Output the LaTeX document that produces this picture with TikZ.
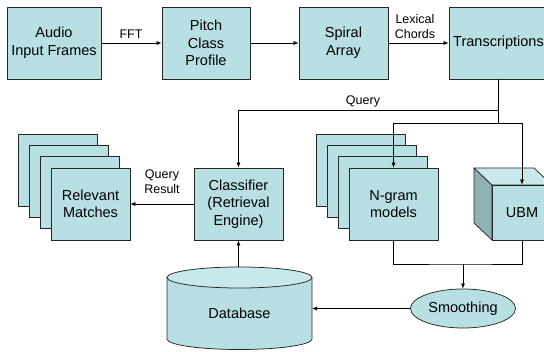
\documentclass[tikz,border=0pt]{standalone}
\usepackage{fontspec}
\setmainfont{Liberation Sans}
\usetikzlibrary{arrows.meta,shapes.geometric}
\definecolor{boxfill}{RGB}{184,223,227}
\definecolor{boxtop}{RGB}{200,232,235}
\definecolor{boxside}{RGB}{143,178,180}
\begin{document}
\begin{tikzpicture}[x=1pt,y=-1pt,
  box/.style={draw=black!85, fill=boxfill, line width=0.75pt, align=center,
    inner sep=0pt, font=\fontsize{14.5}{17.5}\selectfont},
  card/.style={box, minimum width=#1, minimum height=72pt},
  lbl/.style={align=center, inner sep=0pt, font=\fontsize{12.5}{15}\selectfont},
  conn/.style={-{Latex[length=5pt,width=4pt]}, line width=0.7pt},
  wire/.style={line width=0.7pt}]
\useasboundingbox (0,0) rectangle (544,352);

% top row of processing stages
\node[card=94pt] (audio) at (54,43) {Audio\\Input Frames};
\node[card=88pt] (pcp) at (206,43) {Pitch\\Class\\Profile};
\node[card=89pt] (spiral) at (343.5,43) {Spiral\\Array};
\node[card=99pt] (trans) at (498.5,43) {Transcriptions};

\draw[conn] (audio.east) -- (pcp.west);
\node[lbl] (fft) at (131,34) {FFT};
\draw[conn] (pcp.east) -- (spiral.west);
\draw[conn] (spiral.east) -- (trans.west);
\node[lbl] (lex) at (415,26.5) {Lexical\\Chords};

% stack of result cards
\node[card=79pt] (rel3) at (57.5,170) {};
\node[card=79pt] (rel2) at (68.5,181.3) {};
\node[card=79pt] (rel1) at (79.5,192.7) {};
\node[card=79pt] (rel) at (90.5,204) {Relevant\\Matches};

% classifier
\node[card=89pt] (clf) at (238.5,204) {Classifier\\(Retrieval\\Engine)};

% stack of n-gram models
\node[card=89pt] (ng3) at (360.5,170) {};
\node[card=89pt] (ng2) at (371.5,181.3) {};
\node[card=89pt] (ng1) at (382.5,192.7) {};
\node[card=89pt] (ngram) at (393.5,204) {N-gram\\models};

% UBM cube
\fill[boxside, draw=black!85, line width=0.75pt, line join=round]
  (474,168) -- (492,185) -- (492,240) -- (474,223) -- cycle;
\fill[boxtop, draw=black!85, line width=0.75pt, line join=round]
  (474,168) -- (534,168) -- (552,185) -- (492,185) -- cycle;
\node[box, minimum width=60pt, minimum height=55pt] (ubm) at (522,212.5) {UBM};

% smoothing
\node[box, ellipse, minimum width=105pt, minimum height=39pt] (smooth) at (463,308.5) {Smoothing};

% database cylinder
\fill[boxfill, draw=black!85, line width=0.75pt]
  (167,277.5) -- (167,339) arc[start angle=180, end angle=0, x radius=72.5, y radius=10.5]
  -- (312,277.5);
\draw[fill=boxtop, draw=black!85, line width=0.75pt] (239.5,277.5) ellipse [x radius=72.5, y radius=10.5];
\node[lbl, font=\fontsize{14.5}{17.5}\selectfont] (db) at (239.5,313) {Database};
\coordinate (dbtop) at (238.5,267);
\coordinate (dbright) at (312,308.5);

% query routing
\coordinate (qturn) at (498.5,110);
\coordinate (bturn) at (498.5,123);
\draw[conn] (trans.south) -- (qturn) -| (clf.north);
\node[lbl] (query) at (363,101) {Query};
\draw[wire] (qturn) -- (bturn);
\draw[conn] (bturn) -| (ngram.north);
\draw[conn] (bturn) -| (ubm.north);

\draw[conn] (clf.west) -- (rel.east);
\node[lbl] (qres) at (162,182) {Query\\Result};

% model merge into smoothing
\coordinate (mjoin) at (463,264);
\draw[wire] (ngram.south) |- (mjoin) -| (ubm.south);
\draw[conn] (mjoin) -- (smooth.north);
\draw[conn] (smooth.west) -- (dbright);
\draw[conn] (dbtop) -- (clf.south);
\end{tikzpicture}
\end{document}
